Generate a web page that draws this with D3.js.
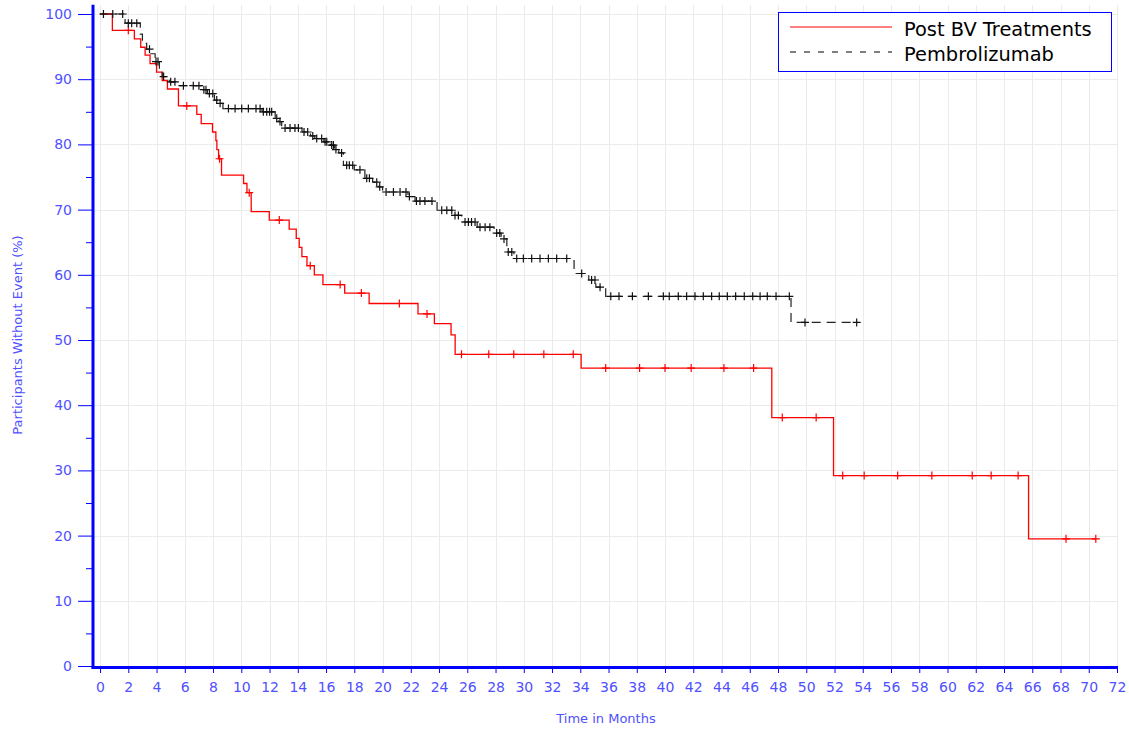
<!DOCTYPE html>
<html>
<head>
<meta charset="utf-8">
<script src="https://cdn.jsdelivr.net/npm/d3@7/dist/d3.min.js"></script>
<style>
  html, body { margin: 0; padding: 0; background: #fff; }
  svg { display: block; }
  .tick text { font-family: "DejaVu Sans", sans-serif; font-size: 14px; fill: #5050ff; }
</style>
</head>
<body>
<svg id="chart" width="1129" height="729"></svg>
<script>
// Kaplan-Meier estimates: each step is [month, percent after the event]
const bvSteps = [
  [0, 100], [0.87, 97.5], [2.43, 96.2], [2.88, 94.9], [3.19, 93.7], [3.54, 92.4],
  [4.0, 91.1], [4.4, 89.8], [4.77, 88.5], [5.55, 85.9], [6.85, 84.6], [7.16, 83.2],
  [7.96, 81.9], [8.2, 80.6], [8.27, 79.2], [8.39, 77.8], [8.6, 75.3], [10.16, 74.0],
  [10.4, 72.6], [10.7, 69.7], [11.98, 68.4], [13.39, 67.0], [13.89, 65.6], [14.1, 64.2],
  [14.29, 62.8], [14.65, 61.4], [15.17, 60.0], [15.78, 58.5], [17.32, 57.2], [19.05, 55.6],
  [22.51, 54.0], [23.67, 52.5], [24.85, 50.8], [25.14, 47.8], [34.06, 45.7], [47.56, 38.1],
  [51.93, 29.2], [65.74, 19.5]
];
const bvEnd = 70.5;
const bvCensored = [
  2.0, 6.14, 8.46, 10.56, 12.69, 14.88, 17.0, 18.5, 21.19, 23.15, 25.59, 27.52, 29.29,
  31.42, 33.5, 35.8, 38.2, 40.0, 41.85, 44.17, 46.27, 48.3, 50.7, 52.58, 54.1, 56.47,
  58.89, 61.75, 63.09, 65.0, 68.39, 70.5
];

const pembroSteps = [
  [0, 100], [1.77, 98.6], [2.85, 96.9], [3.0, 95.5], [3.3, 94.6], [3.6, 93.9],
  [3.9, 92.7], [4.2, 91.5], [4.4, 90.4], [4.9, 89.6], [5.5, 89.0], [7.27, 88.4],
  [7.6, 87.8], [8.1, 86.8], [8.4, 86.3], [8.7, 85.5], [11.47, 85.0], [12.4, 84.0],
  [12.65, 83.5], [12.86, 82.5], [14.3, 81.9], [14.9, 81.3], [15.2, 80.9], [15.85, 80.4],
  [16.3, 79.9], [16.6, 79.2], [16.9, 78.7], [17.23, 76.8], [18.0, 76.1], [18.75, 74.8],
  [19.3, 74.2], [19.7, 73.5], [20.0, 72.7], [21.8, 72.0], [22.3, 71.3], [23.86, 69.9],
  [25.0, 69.1], [25.6, 68.1], [26.7, 67.3], [27.9, 66.4], [28.4, 65.5], [28.8, 63.5],
  [29.3, 62.5], [33.56, 60.2], [34.6, 59.2], [35.1, 58.1], [35.8, 56.7], [48.92, 52.7]
];
const pembroEnd = 53.57;
const pembroCensored = [
  0.24, 0.9, 1.6, 2.0, 2.24, 2.6, 3.5, 3.96, 4.1, 4.5, 5.0, 5.3, 5.9, 6.6, 7.0, 7.35,
  7.5, 7.74, 7.98, 8.26, 8.5, 9.09, 9.56, 10.03, 10.5, 11.04, 11.33, 11.56, 11.8, 12.0,
  12.15, 12.51, 12.74, 13.1, 13.45, 13.8, 14.04, 14.44, 14.7, 15.06, 15.34, 15.69, 15.93,
  16.05, 16.4, 16.52, 16.7, 17.1, 17.46, 17.65, 17.89, 18.4, 18.88, 19.07, 19.59, 19.8,
  20.25, 20.77, 21.24, 21.66, 21.9, 22.4, 22.65, 23.0, 23.5, 24.19, 24.55, 24.9, 25.13,
  25.37, 25.84, 26.08, 26.3, 26.55, 26.9, 27.26, 27.6, 28.08, 28.3, 28.6, 28.9, 29.15,
  29.5, 29.97, 30.56, 31.15, 31.74, 32.33, 33.04, 34.1, 34.8, 35.04, 35.4, 36.16, 36.74,
  37.69, 38.82, 39.88, 40.3, 40.94, 41.53, 42.12, 42.71, 43.3, 43.84, 44.41, 45.0, 45.61,
  46.21, 46.73, 47.24, 47.86, 48.8, 49.91, 53.57
];

const xTicks = d3.range(0, 73, 2);
const yTicks = d3.range(0, 101, 10);
const yMinorTicks = d3.range(5, 100, 10);
const seriesNames = ["Post BV Treatments", "Pembrolizumab"];

const svg = d3.select("#chart");
const axisBlue = "#0000ff";
const labelBlue = "#5050ff";

const x = d3.scaleLinear().domain([-0.5, 72]).range([93, 1117]);
const y = d3.scaleLinear().domain([0, 100]).range([666, 14]);
const plotTop = y(101.4);

// grid
const grid = svg.append("g").attr("stroke", "#ebebeb").attr("stroke-width", 1);
grid.selectAll("line.v").data(xTicks).join("line")
  .attr("x1", d => Math.round(x(d)) + 0.5).attr("x2", d => Math.round(x(d)) + 0.5)
  .attr("y1", plotTop).attr("y2", y(0));
grid.selectAll("line.h").data(yTicks.filter(d => d > 0)).join("line")
  .attr("x1", x(-0.5)).attr("x2", x(72))
  .attr("y1", d => Math.round(y(d)) + 0.5).attr("y2", d => Math.round(y(d)) + 0.5);

// step survival curve from step list
function stepPath(steps, end) {
  const pts = [];
  steps.forEach((s, i) => {
    if (i > 0) pts.push([s[0], steps[i - 1][1]]);
    pts.push(s);
  });
  pts.push([end, steps[steps.length - 1][1]]);
  return d3.line().x(d => x(d[0])).y(d => y(d[1]))(pts);
}
function levelAt(steps, t) {
  let v = steps[0][1];
  for (const s of steps) { if (s[0] <= t) v = s[1]; }
  return v;
}
function drawCensors(g, times, steps, color) {
  const h = 4;
  g.selectAll("path.c").data(times).join("path")
    .attr("fill", "none").attr("stroke", color).attr("stroke-width", 1.2)
    .attr("d", t => {
      const cx = x(t), cy = y(levelAt(steps, t));
      return `M${cx - h},${cy}H${cx + h}M${cx},${cy - h}V${cy + h}`;
    });
}

const bvG = svg.append("g");
bvG.append("path").attr("d", stepPath(bvSteps, bvEnd))
  .attr("fill", "none").attr("stroke", "#ff0000").attr("stroke-width", 1.3);
drawCensors(bvG, bvCensored, bvSteps, "#ff0000");

const pG = svg.append("g");
pG.append("path").attr("d", stepPath(pembroSteps, pembroEnd))
  .attr("fill", "none").attr("stroke", "#222").attr("stroke-width", 1.2)
  .attr("stroke-dasharray", "9,6");
drawCensors(pG, pembroCensored, pembroSteps, "#111");

// y axis
const yAxisG = svg.append("g").attr("transform", `translate(${x(-0.5)},0)`)
  .call(d3.axisLeft(y).tickValues(yTicks).tickSize(15).tickPadding(6).tickFormat(d3.format("d")));
svg.append("g").attr("transform", `translate(${x(-0.5)},0)`)
  .call(d3.axisLeft(y).tickValues(yMinorTicks).tickSize(7).tickFormat(""))
  .select(".domain").remove();
yAxisG.select(".domain").remove();
svg.selectAll(".tick line").attr("stroke", axisBlue);

// x axis
const xAxisG = svg.append("g").attr("transform", `translate(0,${y(0) + 1})`)
  .call(d3.axisBottom(x).tickValues(xTicks).tickSize(6).tickPadding(9).tickFormat(d3.format("d")));
xAxisG.select(".domain").remove();
xAxisG.selectAll(".tick line").attr("stroke", axisBlue);

// axis lines
svg.append("line").attr("x1", x(-0.5)).attr("x2", x(-0.5)).attr("y1", plotTop).attr("y2", y(0) + 2.5)
  .attr("stroke", axisBlue).attr("stroke-width", 3);
svg.append("line").attr("x1", x(-0.5) - 1.5).attr("x2", x(72) + 1).attr("y1", y(0) + 1.5).attr("y2", y(0) + 1.5)
  .attr("stroke", axisBlue).attr("stroke-width", 3);

svg.selectAll(".tick text").attr("fill", labelBlue);

// axis titles
svg.append("text").attr("x", 606).attr("y", 723).attr("text-anchor", "middle")
  .attr("font-family", "DejaVu Sans, sans-serif").attr("font-size", 13).attr("fill", labelBlue)
  .text("Time in Months");
svg.append("text").attr("transform", `translate(22,${y(50) - 5}) rotate(-90)`).attr("text-anchor", "middle")
  .attr("font-family", "DejaVu Sans, sans-serif").attr("font-size", 13).attr("fill", labelBlue)
  .text("Participants Without Event (%)");

// legend
const lg = svg.append("g");
lg.append("rect").attr("x", 778.5).attr("y", 12.5).attr("width", 333).attr("height", 59)
  .attr("fill", "#fff").attr("stroke", axisBlue).attr("stroke-width", 1);
const legendStyles = [
  { color: "#ff0000", dash: null },
  { color: "#000", dash: "6,8" }
];
seriesNames.forEach((name, i) => {
  const ly = 27 + i * 25;
  lg.append("line").attr("x1", 790).attr("x2", 892).attr("y1", ly).attr("y2", ly)
    .attr("stroke", legendStyles[i].color).attr("stroke-width", 1)
    .attr("stroke-dasharray", legendStyles[i].dash);
  lg.append("text").attr("x", 904).attr("y", ly + 8.5)
    .attr("font-family", "DejaVu Sans, sans-serif").attr("font-size", 19.4).attr("fill", "#000")
    .text(name);
});
</script>
</body>
</html>
